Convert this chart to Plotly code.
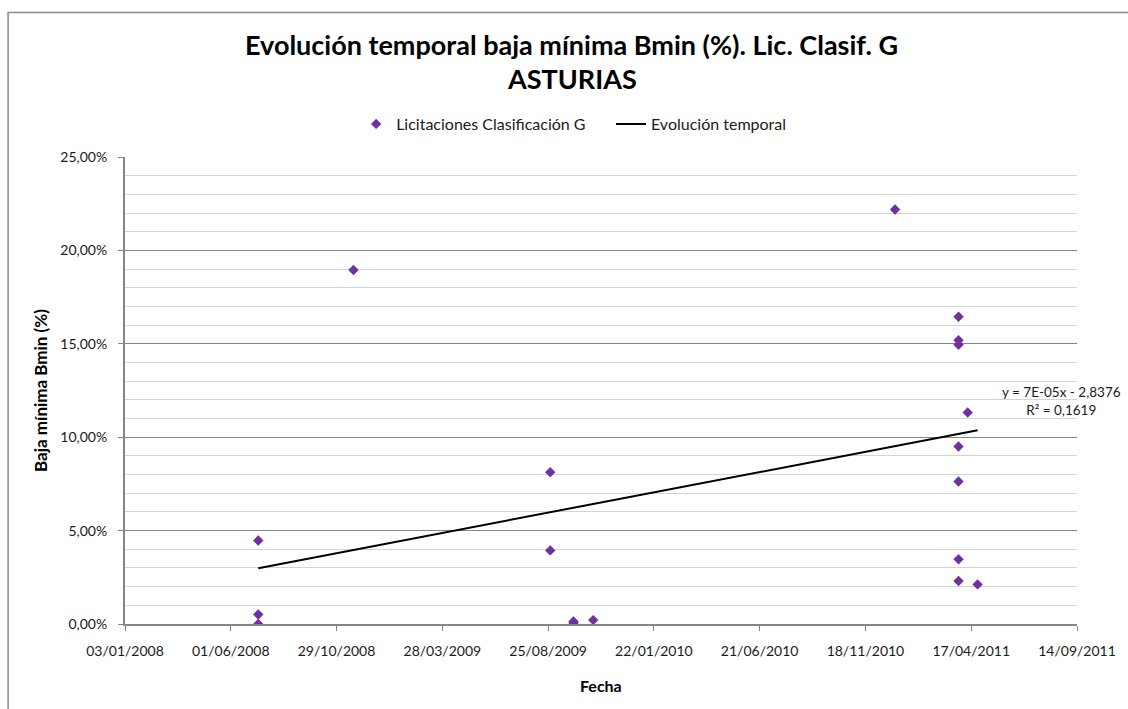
import numpy as np
import pandas as pd
import plotly.graph_objects as go

# ---- data ----
fechas = [
    "2008-07-10", "2008-07-10", "2008-07-10",
    "2008-11-22",
    "2009-08-28", "2009-08-28",
    "2009-09-30", "2009-09-30",
    "2009-10-28",
    "2010-12-30",
    "2011-03-30", "2011-03-30", "2011-03-30", "2011-03-30",
    "2011-03-30", "2011-03-30", "2011-03-30",
    "2011-04-12",
    "2011-04-26",
]
bmin = [
    0.0447, 0.0051, 0.0000,
    0.1895,
    0.0813, 0.0394,
    0.0013, 0.0005,
    0.0021,
    0.2219,
    0.1645, 0.1519, 0.1495, 0.0950,
    0.0763, 0.0347, 0.0230,
    0.1132,
    0.0212,
]
tick_fechas = ["2008-01-03", "2008-06-01", "2008-10-29", "2009-03-28", "2009-08-25",
               "2010-01-22", "2010-06-21", "2010-11-18", "2011-04-17", "2011-09-14"]
tick_fechas_txt = ["03/01/2008", "01/06/2008", "29/10/2008", "28/03/2009", "25/08/2009",
                   "22/01/2010", "21/06/2010", "18/11/2010", "17/04/2011", "14/09/2011"]
y_ticks = [0.0, 0.05, 0.10, 0.15, 0.20, 0.25]
y_ticks_txt = ["0,00%", "5,00%", "10,00%", "15,00%", "20,00%", "25,00%"]

# trend line shown in the chart: y = a*x + b, x = spreadsheet serial day
# (b from the printed equation, a read from the drawn line; printed rounded as 7E-05)
tendencia_pendiente = 7.234e-05
tendencia_ordenada = -2.8376
ecuacion = "y = 7E-05x - 2,8376<br>R² = 0,1619"

fx = pd.to_datetime(pd.Series(fechas))
serial = (fx - pd.Timestamp("1899-12-30")).dt.days.to_numpy(dtype=float)
tx = [fx.min(), fx.max()]
ty = [tendencia_pendiente * serial.min() + tendencia_ordenada,
      tendencia_pendiente * serial.max() + tendencia_ordenada]

FONT = "Lato, 'Open Sans', sans-serif"
GRIS = "#868686"

W, H = 1128, 709
L, R, T, B = 125, 46, 157, 85
PW = W - L - R
PH = H - T - B


def px(xp):  # window x -> paper x
    return (xp - L) / PW


def py(yp):  # window y -> paper y
    return (H - B - yp) / PH


fig = go.Figure()
fig.add_trace(go.Scatter(
    x=fx, y=bmin, mode="markers",
    name="Licitaciones Clasificación G\u00a0\u00a0\u00a0\u00a0\u00a0",
    marker=dict(symbol="diamond", size=8, color="#7030a0", line=dict(width=0)),
))
fig.add_trace(go.Scatter(
    x=tx, y=ty, mode="lines", name="Evolución temporal",
    line=dict(color="black", width=2),
))

fig.update_layout(
    width=W, height=H,
    margin=dict(l=L, r=R, t=T, b=B),
    paper_bgcolor="white", plot_bgcolor="white",
    font=dict(family=FONT, size=14, color="#1a1a1a"),
    showlegend=True,
    legend=dict(orientation="h", x=px(576), xanchor="center", y=py(124), yanchor="middle",
                font=dict(size=16), itemwidth=30, tracegroupgap=0,
                bgcolor="rgba(0,0,0,0)"),
    xaxis=dict(
        type="date", range=[tick_fechas[0], tick_fechas[-1]],
        tickvals=tick_fechas, ticktext=tick_fechas_txt,
        showgrid=False, zeroline=False,
        showline=True, linecolor=GRIS, linewidth=2,
        ticks="outside", ticklen=5, tickcolor=GRIS, tickwidth=1,
        tickfont=dict(size=14), ticklabelstandoff=8,
    ),
    yaxis=dict(
        range=[0, 0.25], tickvals=y_ticks, ticktext=y_ticks_txt,
        showgrid=True, gridcolor=GRIS, gridwidth=1, zeroline=False,
        showline=True, linecolor=GRIS, linewidth=2,
        ticks="outside", ticklen=5, tickcolor=GRIS, tickwidth=1,
        tickfont=dict(size=14), ticklabelstandoff=8,
        minor=dict(dtick=0.01, showgrid=True, gridcolor="#d4d4d4", gridwidth=1, ticks=""),
    ),
    annotations=[
        dict(text="<b>Evolución temporal baja mínima Bmin (%). Lic. Clasif. G</b>",
             xref="paper", yref="paper", x=px(574), y=py(45),
             xanchor="center", yanchor="middle", showarrow=False,
             font=dict(size=27, color="black")),
        dict(text="<b>ASTURIAS</b>",
             xref="paper", yref="paper", x=px(574), y=py(78),
             xanchor="center", yanchor="middle", showarrow=False,
             font=dict(size=27, color="black")),
        dict(text="<b>Fecha</b>", xref="paper", yref="paper",
             x=0.5, y=py(685), xanchor="center", yanchor="middle",
             showarrow=False, font=dict(size=16, color="black")),
        dict(text="<b>Baja mínima Bmin (%)</b>", xref="paper", yref="paper",
             x=px(40), y=0.5, xanchor="center", yanchor="middle",
             textangle=-90, showarrow=False, font=dict(size=17, color="black")),
        dict(text=ecuacion, xref="paper", yref="paper",
             x=px(1066), y=py(401), xanchor="center", yanchor="middle",
             align="center", showarrow=False, font=dict(size=13.5, color="#1a1a1a")),
    ],
    shapes=[
        dict(type="rect", xref="paper", yref="paper",
             x0=px(7.5), x1=px(1140),
             y0=py(730), y1=py(12.5),
             line=dict(color="#8a8a8a", width=1.5), fillcolor="rgba(0,0,0,0)", layer="below"),
    ],
)

fig.write_html("out.html",
               config={"displayModeBar": False},
               post_script="document.body.style.margin='0';document.body.style.overflow='hidden';")
